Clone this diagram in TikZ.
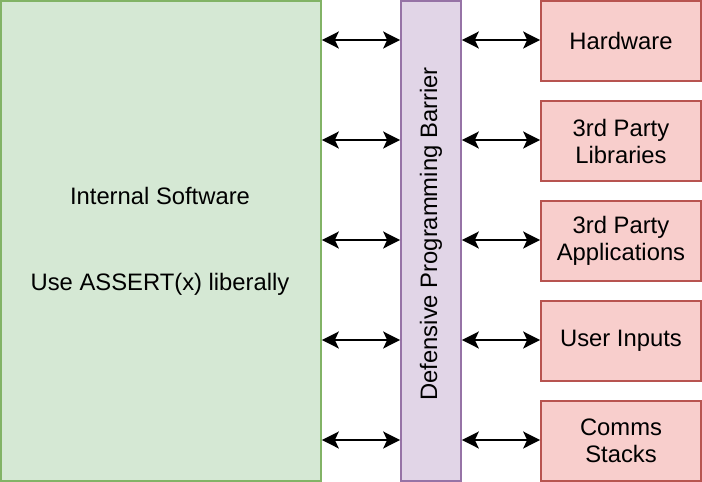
\documentclass[tikz,border=0pt]{standalone}
\usepackage{fontspec}
\setmainfont{Liberation Sans}
\usetikzlibrary{arrows.meta}
\definecolor{gfill}{HTML}{D5E8D4}
\definecolor{gdraw}{HTML}{82B366}
\definecolor{pfill}{HTML}{E1D5E7}
\definecolor{pdraw}{HTML}{9673A6}
\definecolor{rfill}{HTML}{F8CECC}
\definecolor{rdraw}{HTML}{B85450}
\begin{document}
\begin{tikzpicture}[x=1pt,y=-1pt,
  txt/.style={font=\fontsize{23.8}{27}\selectfont, align=center, inner sep=0pt},
  greenbox/.style={draw=gdraw, fill=gfill, line width=1.7pt, minimum width=320pt, minimum height=480pt, inner sep=0pt},
  purplebox/.style={draw=pdraw, fill=pfill, line width=1.7pt, minimum width=60pt, minimum height=480pt, inner sep=0pt},
  redbox/.style={draw=rdraw, fill=rfill, line width=1.7pt, minimum width=160pt, minimum height=80pt, inner sep=0pt, txt},
  link/.style={line width=1.7pt, {Stealth[length=17pt,width=17pt,inset=4pt]}-{Stealth[length=17pt,width=17pt,inset=4pt]}}
]
\useasboundingbox (0,0) rectangle (702,482);
\node[greenbox] (sw) at (161,241) {};
\node[purplebox] (bar) at (431,241) {};
\node[txt, rotate=90] (bartxt) at (431,234) {Defensive Programming Barrier};
\node[txt, anchor=base] (sw1) at (160,204) {Internal Software};
\node[txt, anchor=base] (sw2) at (160,290) {Use ASSERT(x) liberally};
\node[redbox] (r1) at (621,41) {Hardware};
\node[redbox] (r2) at (621,141) {3rd Party\\Libraries};
\node[redbox] (r3) at (621,241) {3rd Party\\Applications};
\node[redbox] (r4) at (621,341) {User Inputs};
\node[redbox] (r5) at (621,441) {Comms\\Stacks};
\foreach \i/\y in {1/40,2/140,3/240,4/340,5/440}{
  \coordinate (la\i) at (sw.east |- 0,\y);
  \coordinate (lb\i) at (bar.west |- 0,\y);
  \coordinate (rb\i) at (bar.east |- 0,\y);
  \draw[link] (la\i) -- (lb\i);
  \draw[link] (rb\i) -- (r\i.west |- rb\i);
}
\end{tikzpicture}
\end{document}
